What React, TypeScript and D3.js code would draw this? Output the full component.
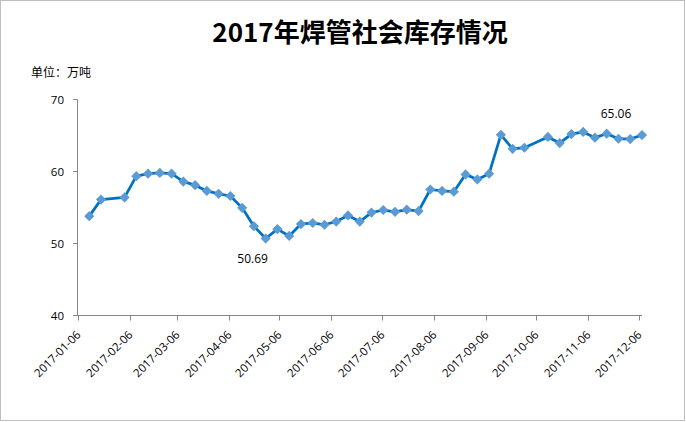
import React from "react";
import * as d3 from "d3";

const title = "2017年焊管社会库存情况";
const unitLabel = "单位：万吨";

const dates: string[] = [
  "2017-01-13", "2017-01-20", "2017-02-03", "2017-02-10", "2017-02-17", "2017-02-24",
  "2017-03-03", "2017-03-10", "2017-03-17", "2017-03-24", "2017-03-31", "2017-04-07",
  "2017-04-14", "2017-04-21", "2017-04-28", "2017-05-05", "2017-05-12", "2017-05-19",
  "2017-05-26", "2017-06-02", "2017-06-09", "2017-06-16", "2017-06-23", "2017-06-30",
  "2017-07-07", "2017-07-14", "2017-07-21", "2017-07-28", "2017-08-04", "2017-08-11",
  "2017-08-18", "2017-08-25", "2017-09-01", "2017-09-08", "2017-09-15", "2017-09-22",
  "2017-09-29", "2017-10-13", "2017-10-20", "2017-10-27", "2017-11-03", "2017-11-10",
  "2017-11-17", "2017-11-24", "2017-12-01", "2017-12-08",
];

const values: number[] = [
  53.8, 56.1, 56.4, 59.35, 59.7, 59.8,
  59.7, 58.6, 58.1, 57.3, 56.9, 56.6,
  54.95, 52.4, 50.69, 52.0, 51.05, 52.7,
  52.85, 52.6, 53.05, 53.9, 53.05, 54.3,
  54.65, 54.4, 54.7, 54.5, 57.5, 57.3,
  57.2, 59.6, 58.9, 59.7, 65.1, 63.15,
  63.3, 64.8, 63.95, 65.2, 65.5, 64.7,
  65.25, 64.55, 64.5, 65.06,
];

const tickDates: string[] = [
  "2017-01-06", "2017-02-06", "2017-03-06", "2017-04-06", "2017-05-06", "2017-06-06",
  "2017-07-06", "2017-08-06", "2017-09-06", "2017-10-06", "2017-11-06", "2017-12-06",
];

const yTicks: number[] = [40, 50, 60, 70];

const annotations: { idx: number; text: string; dx: number; dy: number }[] = [
  { idx: 14, text: "50.69", dx: -13, dy: 24 },
  { idx: 45, text: "65.06", dx: -26, dy: -17 },
];

const W = 686;
const H = 422;

export default function App() {
  const parse = d3.timeParse("%Y-%m-%d");
  const data = dates.map((d, i) => ({ date: parse(d) as Date, value: values[i] }));

  const x = d3
    .scaleTime()
    .domain([parse("2017-01-06") as Date, parse("2017-12-08") as Date])
    .range([77.5, 642]);
  const y = d3.scaleLinear().domain([40, 70]).range([315.5, 99.5]);

  const line = d3
    .line<{ date: Date; value: number }>()
    .x((d) => x(d.date))
    .y((d) => y(d.value));

  const diamond = d3.symbol().type(d3.symbolDiamond2).size(66)();

  const axisColor = "#868686";
  const font = "'Open Sans', 'Noto Sans', 'Noto Sans CJK SC', sans-serif";

  return (
    <svg
      width={W}
      height={H}
      style={{ position: "absolute", left: 0, top: 0, background: "#fff" }}
      fontFamily={font}
    >
      <rect x={0.5} y={0.5} width={684} height={420} fill="#fff" stroke="#bfbfbf" strokeWidth={1} />
      <text
        x={360}
        y={42}
        textAnchor="middle"
        fontSize={26}
        fontWeight="bold"
        fontFamily="'Noto Sans CJK SC', sans-serif"
        fill="#000"
      >
        {title}
      </text>
      <text x={31} y={77} fontSize={12} fontFamily="'Noto Sans CJK SC', sans-serif" fill="#000">
        {unitLabel}
      </text>

      {/* y axis */}
      <line x1={77.5} x2={77.5} y1={y(70)} y2={y(40)} stroke={axisColor} strokeWidth={1} />
      {yTicks.map((t) => (
        <g key={t}>
          <line x1={73} x2={77.5} y1={y(t)} y2={y(t)} stroke={axisColor} />
          <text x={64} y={y(t) + 4} textAnchor="end" fontSize={11.5} fill="#000">
            {t}
          </text>
        </g>
      ))}

      {/* x axis */}
      <line x1={77.5} x2={642} y1={y(40)} y2={y(40)} stroke={axisColor} strokeWidth={1} />
      {tickDates.map((t) => {
        const xp = Math.round(x(parse(t) as Date)) + 0.5;
        return (
          <g key={t}>
            <line x1={xp} x2={xp} y1={y(40)} y2={y(40) + 5} stroke={axisColor} />
            <text
              transform={`translate(${xp + 3},${y(40) + 20}) rotate(-45)`}
              textAnchor="end"
              fontSize={11.5}
              fill="#000"
            >
              {t}
            </text>
          </g>
        );
      })}

      {/* series */}
      <path d={line(data) || ""} fill="none" stroke="#0070C0" strokeWidth={2.75} strokeLinejoin="round" />
      {data.map((d, i) => (
        <path
          key={i}
          d={diamond || ""}
          transform={`translate(${x(d.date)},${y(d.value)})`}
          fill="#5B9BD5"
        />
      ))}

      {annotations.map((a) => (
        <text
          key={a.idx}
          x={x(data[a.idx].date) + a.dx}
          y={y(data[a.idx].value) + a.dy}
          textAnchor="middle"
          fontSize={12}
          fill="#000"
        >
          {a.text}
        </text>
      ))}
    </svg>
  );
}
